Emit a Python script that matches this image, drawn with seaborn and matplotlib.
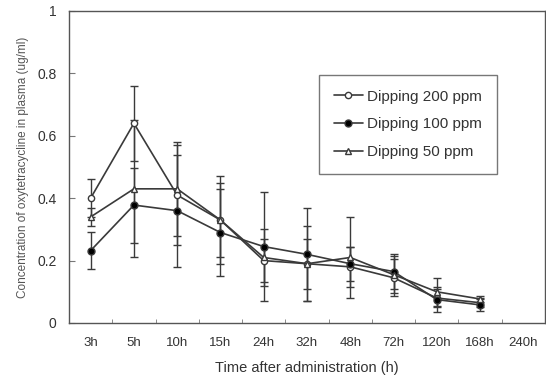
import numpy as np
import pandas as pd
import matplotlib
matplotlib.use("Agg")
import matplotlib.pyplot as plt
import seaborn as sns

times = ["3h", "5h", "10h", "15h", "24h", "32h", "48h", "72h", "120h", "168h", "240h"]

# measured points (240h has no data)
ppm200 = [0.40, 0.64, 0.41, 0.33, 0.20, 0.19, 0.18, 0.145, 0.08, 0.065]
ppm200_err = [0.06, 0.12, 0.16, 0.14, 0.07, 0.12, 0.065, 0.06, 0.03, 0.015]
ppm100 = [0.232, 0.378, 0.36, 0.29, 0.245, 0.22, 0.19, 0.165, 0.075, 0.058]
ppm100_err = [0.06, 0.12, 0.18, 0.14, 0.175, 0.15, 0.055, 0.055, 0.04, 0.02]
ppm50 = [0.34, 0.43, 0.43, 0.33, 0.21, 0.19, 0.21, 0.155, 0.10, 0.077]
ppm50_err = [0.03, 0.22, 0.15, 0.12, 0.09, 0.08, 0.13, 0.06, 0.045, 0.01]

series = [
    ("Dipping 200 ppm", ppm200, ppm200_err, "o", "white", 4.5),
    ("Dipping 100 ppm", ppm100, ppm100_err, "o", "black", 5),
    ("Dipping 50 ppm", ppm50, ppm50_err, "^", "white", 4.5),
]

sns.set_style("white")
plt.rcParams["font.family"] = ["Liberation Sans", "DejaVu Sans"]

fig = plt.figure(figsize=(5.46, 3.75), dpi=100)
ax = fig.add_axes([69 / 546, 1 - 323 / 375, 476 / 546, 312 / 375])

line_col = "#3a3a3a"
for name, vals, errs, mk, fc, ms in series:
    pos = np.arange(len(vals))
    ax.errorbar(pos, vals, yerr=errs, fmt="none", ecolor=line_col,
                elinewidth=1.0, capsize=3, capthick=1.0, zorder=2)
    sns.lineplot(x=pos, y=vals, ax=ax, color=line_col, linewidth=1.2,
                 marker=mk, markersize=ms, markerfacecolor=fc,
                 markeredgecolor=line_col, markeredgewidth=1.0,
                 label=name, zorder=3)

ax.set_xlim(-0.5, len(times) - 0.5)
ax.set_ylim(0, 1)
ax.set_xticks(np.arange(len(times)))
ax.set_xticklabels(times)
ax.set_xticks(np.arange(0.5, len(times) - 1, 1), minor=True)
ax.tick_params(axis="x", which="major", length=0, pad=10, labelsize=9.5,
               labelcolor="#333333")
ax.tick_params(axis="x", which="minor", length=3, direction="in",
               color="#777777", bottom=True)
ax.set_yticks([0, 0.2, 0.4, 0.6, 0.8, 1.0])
ax.set_yticklabels(["0", "0.2", "0.4", "0.6", "0.8", "1"])
ax.tick_params(axis="y", length=4, direction="in", color="#777777",
               left=True, labelsize=10, labelcolor="#333333", pad=9)

for sp in ax.spines.values():
    sp.set_color("#555555")
    sp.set_linewidth(1.0)

ax.set_xlabel("Time after administration (h)", fontsize=10.5, color="#333333",
              labelpad=9)
ax.set_ylabel("Concentration of oxytetracycline in plasma (ug/ml)", fontsize=8.5,
              color="#555555", labelpad=6)

leg = ax.legend(loc="upper left", bbox_to_anchor=((319 - 69) / 476, (323 - 75) / 312),
                frameon=True, fancybox=False, fontsize=11, handlelength=1.9,
                labelspacing=0.9, borderpad=0.95, handletextpad=0.3,
                borderaxespad=0)
leg.get_frame().set_edgecolor("#555555")
leg.get_frame().set_linewidth(1.0)
for t in leg.get_texts():
    t.set_color("#333333")

fig.savefig("out.png", dpi=100)
